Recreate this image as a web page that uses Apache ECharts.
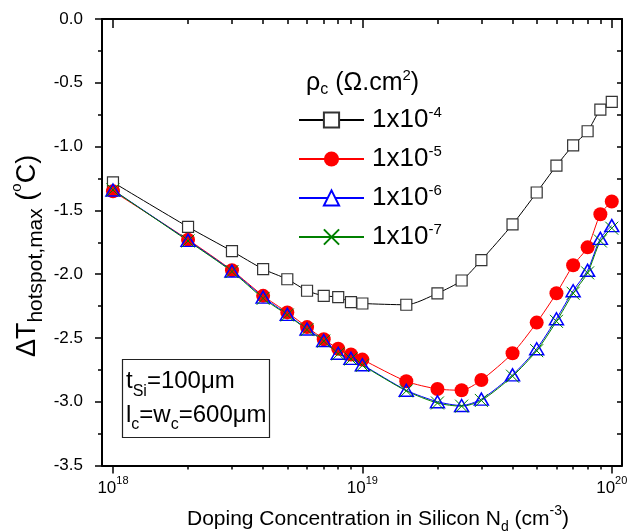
<!DOCTYPE html>
<html><head><meta charset="utf-8">
<script src="https://cdn.jsdelivr.net/npm/echarts@6/dist/echarts.min.js"></script>
<style>html,body{margin:0;padding:0;background:#fff}#c{width:630px;height:532px}</style>
</head><body><div id="c"></div>
<script>
// ---- data ----
const dopingNd = [1e18,2e18,3e18,4e18,5e18,6e18,7e18,8e18,9e18,1e19,1.5e19,2e19,2.5e19,3e19,4e19,5e19,6e19,7e19,8e19,9e19,1e20];
const rho1e4 = [-1.28,-1.63,-1.82,-1.96,-2.04,-2.13,-2.17,-2.18,-2.22,-2.23,-2.24,-2.15,-2.05,-1.89,-1.61,-1.36,-1.15,-0.99,-0.88,-0.71,-0.65];
const rho1e5 = [-1.35,-1.73,-1.97,-2.17,-2.30,-2.415,-2.51,-2.585,-2.63,-2.67,-2.84,-2.90,-2.91,-2.83,-2.62,-2.38,-2.15,-1.93,-1.79,-1.53,-1.43];
const rho1e6 = [-1.34,-1.735,-1.975,-2.18,-2.315,-2.43,-2.52,-2.62,-2.66,-2.71,-2.91,-3.00,-3.03,-2.98,-2.79,-2.585,-2.35,-2.13,-1.97,-1.72,-1.62];
const rho1e7 = [-1.34,-1.74,-1.98,-2.19,-2.32,-2.435,-2.525,-2.625,-2.665,-2.715,-2.915,-3.01,-3.035,-2.99,-2.80,-2.60,-2.37,-2.15,-1.99,-1.74,-1.64];
const seriesNames = ['1x10-4','1x10-5','1x10-6','1x10-7'];
const xMajorTicks = [1e18,1e19,1e20];
const xMinorTicks = [2e18,3e18,4e18,5e18,6e18,7e18,8e18,9e18,2e19,3e19,4e19,5e19,6e19,7e19,8e19,9e19];
const yMajorTicks = [0,-0.5,-1,-1.5,-2,-2.5,-3,-3.5];
const yMinorTicks = [-0.25,-0.75,-1.25,-1.75,-2.25,-2.75,-3.25];

const FONT = 'Liberation Sans, Arial, Helvetica, sans-serif';
const lg = v => Math.log10(v);
const X_MIN = 17.956, X_MAX = 20.041;
const pts = arr => dopingNd.map((nd,i)=>[lg(nd), arr[i]]);

const xMaj = xMajorTicks.map(lg), xMin = xMinorTicks.map(lg);

function xAxisDef(pos, vals, len, inside, showLine, showLabel, extra) {
  return Object.assign({
    type:'value', min:X_MIN, max:X_MAX, position:pos, gridIndex:0,
    axisLine:{show:showLine, onZero:false, lineStyle:{color:'#000', width:2}},
    axisTick:{show:true, customValues:vals, length:len, inside:inside, lineStyle:{color:'#000', width:1.5}},
    axisLabel:{show:showLabel, customValues:vals},
    splitLine:{show:false}
  }, extra||{});
}
function yAxisDef(pos, vals, len, inside, showLine, showLabel, extra) {
  return Object.assign({
    type:'value', min:-3.5, max:0, position:pos, gridIndex:0,
    axisLine:{show:showLine, onZero:false, lineStyle:{color:'#000', width:2}},
    axisTick:{show:true, customValues:vals, length:len, inside:inside, lineStyle:{color:'#000', width:1.5}},
    axisLabel:{show:showLabel, customValues:vals},
    splitLine:{show:false}
  }, extra||{});
}

const chart = echarts.init(document.getElementById('c'), null, {renderer:'canvas'});
const option = {
  animation:false,
  backgroundColor:'#fff',
  grid:{left:102, top:19, width:520, height:446.5, containLabel:false, outerBoundsMode:'none'},
  xAxis:[
    xAxisDef('bottom', xMaj, 8, false, true, true, {
      axisLabel:{show:true, customValues:xMaj, margin:10,
        formatter: v => '{m|10}{sup|' + Math.round(v) + '}',
        rich:{ m:{fontSize:17, fontFamily:FONT, color:'#000', lineHeight:26},
               sup:{fontSize:11, fontFamily:FONT, color:'#000', lineHeight:8, verticalAlign:'top'} }},
      name:'{m|Doping Concentration in Silicon N}{s|d}{m| (cm}{sup|-3}{m|)}',
      nameLocation:'middle', nameGap:38.5, nameMoveOverlap:false,
      nameTextStyle:{padding:[0,0,0,32], rich:{
        m:{fontSize:21, fontFamily:FONT, color:'#000', lineHeight:30},
        s:{fontSize:14, fontFamily:FONT, color:'#000', lineHeight:14, verticalAlign:'bottom'},
        sup:{fontSize:14, fontFamily:FONT, color:'#000', lineHeight:14, verticalAlign:'top'} }}
    }),
    xAxisDef('bottom', xMin, 4, false, false, false),
    xAxisDef('top', xMaj, 9, true, true, false),
    xAxisDef('top', xMin, 5, true, false, false)
  ],
  yAxis:[
    yAxisDef('left', yMajorTicks, 7, false, true, true, {
      axisLabel:{show:true, customValues:yMajorTicks, margin:19, fontSize:17, fontFamily:FONT, color:'#000',
        formatter: v => (Math.abs(v) < 1e-9 ? 0 : v).toFixed(1)}
    }),
    yAxisDef('left', yMinorTicks, 4, false, false, false),
    yAxisDef('right', yMajorTicks, 5, true, true, false),
    yAxisDef('right', yMinorTicks, 5, true, false, false)
  ],
  legend:{
    orient:'vertical', left:293, top:100, itemWidth:65, itemHeight:19, itemGap:11,
    data:[
      {name:seriesNames[0], itemStyle:{color:'#fff'}},
      {name:seriesNames[1]},
      {name:seriesNames[2], itemStyle:{color:'#fff'}},
      {name:seriesNames[3]}
    ],
    formatter: n => '{b|1x10}{sup|' + n.slice(4) + '}',
    textStyle:{padding:[0,0,0,3], rich:{
      b:{fontSize:26, fontFamily:FONT, color:'#000', lineHeight:30},
      sup:{fontSize:15, fontFamily:FONT, color:'#000', lineHeight:14, verticalAlign:'top'} }}
  },
  graphic:[
    {type:'text', x:28, y:256, rotation:Math.PI/2, style:{
      text:'{d|ΔT}{s|hotspot,max}{d| (}{sup|o}{d|C)}', align:'center', verticalAlign:'middle',
      rich:{ d:{fontSize:27, fontFamily:FONT, fill:'#000', lineHeight:38},
             s:{fontSize:21, fontFamily:FONT, fill:'#000', lineHeight:21, verticalAlign:'bottom'},
             sup:{fontSize:15, fontFamily:FONT, fill:'#000', lineHeight:21, verticalAlign:'top'} }}},
    {type:'text', left:306, top:68, style:{
      text:'{r|ρ}{s|c}{t| (Ω.cm}{sup|2}{t|)}',
      rich:{ r:{fontSize:25, fontFamily:FONT, fill:'#000', lineHeight:30},
             t:{fontSize:25, fontFamily:FONT, fill:'#000', lineHeight:30},
             s:{fontSize:16, fontFamily:FONT, fill:'#000', lineHeight:14, verticalAlign:'bottom'},
             sup:{fontSize:15, fontFamily:FONT, fill:'#000', lineHeight:14, verticalAlign:'top'} }}},
    {type:'rect', shape:{x:122.5, y:359.5, width:147, height:78}, style:{fill:'#fff', stroke:'#222', lineWidth:1.2}, z:10},
    {type:'text', x:126, y:381.5, z:11, style:{
      text:'{m|t}{s|Si}{m|=100μm}', verticalAlign:'middle', align:'left',
      rich:{ m:{fontSize:24, fontFamily:FONT, fill:'#000', lineHeight:36},
             s:{fontSize:16, fontFamily:FONT, fill:'#000', lineHeight:16, verticalAlign:'bottom'} }}},
    {type:'text', x:126, y:415, z:11, style:{
      text:'{m|l}{s|c}{m|=w}{s|c}{m|=600μm}', verticalAlign:'middle', align:'left',
      rich:{ m:{fontSize:24, fontFamily:FONT, fill:'#000', lineHeight:36},
             s:{fontSize:16, fontFamily:FONT, fill:'#000', lineHeight:16, verticalAlign:'bottom'} }}}
  ],
  series:[
    {name:seriesNames[0], type:'line', xAxisIndex:0, yAxisIndex:0, data:pts(rho1e4), smooth:0.25,
     symbol:'rect', symbolSize:11, lineStyle:{color:'#000', width:1},
     itemStyle:{color:'#fff', borderColor:'#333', borderWidth:1.2}},
    {name:seriesNames[1], type:'line', xAxisIndex:0, yAxisIndex:0, data:pts(rho1e5), smooth:0.25,
     symbol:'circle', symbolSize:14, lineStyle:{color:'#ff0000', width:1},
     itemStyle:{color:'#ff0000', borderColor:'#ff0000', borderWidth:0}},
    {name:seriesNames[2], type:'line', xAxisIndex:0, yAxisIndex:0, data:pts(rho1e6), smooth:0.25,
     symbol:'triangle', symbolSize:[14,12], lineStyle:{color:'#0000ff', width:1},
     itemStyle:{color:'rgba(255,255,255,0)', borderColor:'#0000ff', borderWidth:1.5}},
    {name:seriesNames[3], type:'line', xAxisIndex:0, yAxisIndex:0, data:pts(rho1e7), smooth:0.25,
     symbol:'path://M0,0L10,10M10,0L0,10', symbolSize:13, lineStyle:{color:'#008000', width:1},
     itemStyle:{color:'#008000', borderColor:'#008000', borderWidth:1}}
  ]
};
chart.setOption(option);
</script></body></html>
